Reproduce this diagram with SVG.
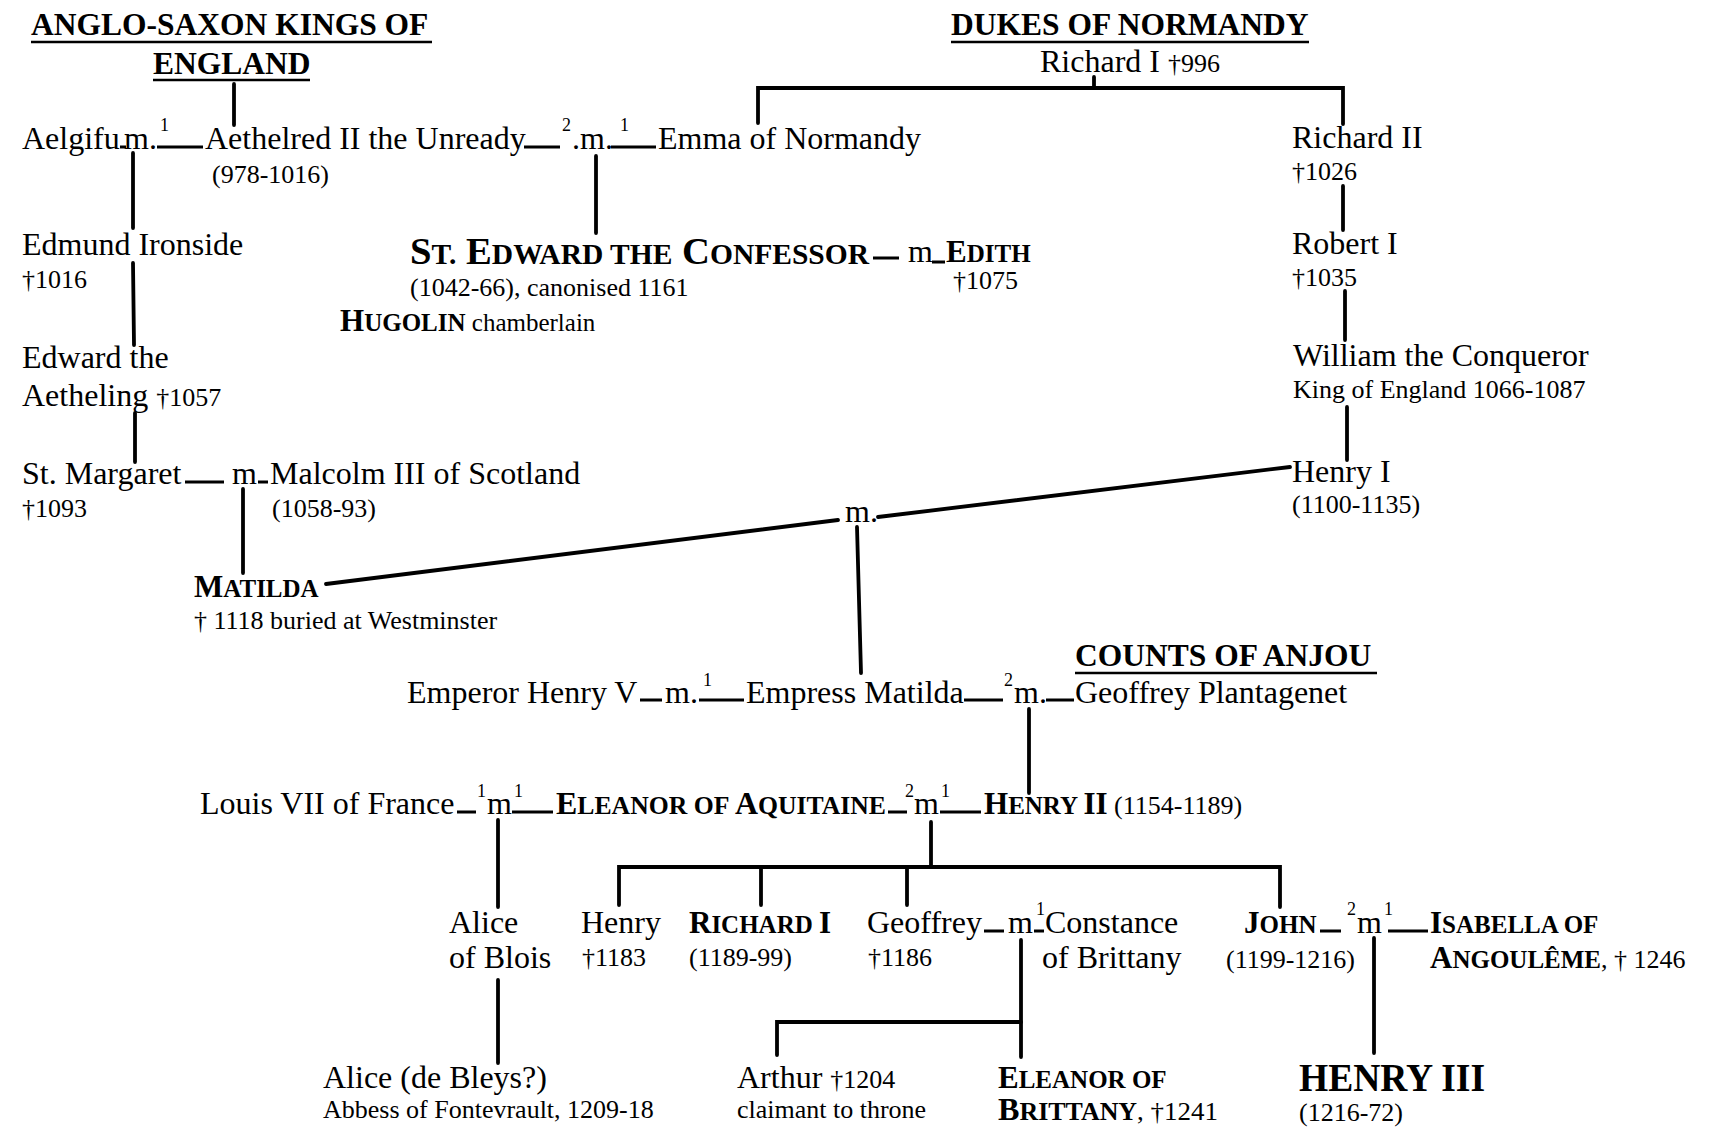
<svg xmlns="http://www.w3.org/2000/svg" width="1709" height="1138" viewBox="0 0 1709 1138">
<style>
text{font-family:"Liberation Serif","Times New Roman",serif;fill:#000}
.n{font-size:32px}
.s{font-size:26px}
.sup{font-size:18px}
.h{font-size:31.5px;font-weight:bold}
.b{font-weight:bold}
.B{font-size:31px}
.sc{font-size:25px}
.ln{stroke:#000;stroke-width:3.8;fill:none;stroke-linecap:round}
.ds{stroke:#000;stroke-width:3;fill:none}
.ul{stroke:#000;stroke-width:2.5}
</style>
<rect width="1709" height="1138" fill="#fff"/>

<g id="connectors">
  <line class="ln" x1="234" y1="84" x2="234" y2="125"/>
  <line class="ln" x1="133" y1="153" x2="133" y2="228"/>
  <line class="ln" x1="133" y1="263" x2="134" y2="345"/>
  <line class="ln" x1="135" y1="413" x2="135" y2="462"/>
  <line class="ln" x1="243" y1="489" x2="243" y2="573"/>
  <line class="ln" x1="596" y1="156" x2="596" y2="233"/>
  <path class="ln" d="M758,123 V88 H1343 V124"/>
  <line class="ln" x1="1094" y1="77" x2="1094" y2="88"/>
  <line class="ln" x1="1343" y1="186" x2="1343" y2="230"/>
  <line class="ln" x1="1345" y1="291" x2="1345" y2="340"/>
  <line class="ln" x1="1347" y1="407" x2="1347" y2="460"/>
  <line class="ln" stroke-width="4.2" x1="326" y1="584" x2="838" y2="520"/>
  <line class="ln" stroke-width="4.2" x1="878" y1="517" x2="1290" y2="467"/>
  <line class="ln" x1="857" y1="527" x2="861" y2="673"/>
  <line class="ln" x1="1029" y1="709" x2="1029" y2="793"/>
  <line class="ln" x1="498" y1="820" x2="498" y2="907"/>
  <line class="ln" x1="931" y1="822" x2="931" y2="867"/>
  <path class="ln" d="M619,905 V867 H1280 V907"/>
  <line class="ln" x1="761" y1="867" x2="761" y2="905"/>
  <line class="ln" x1="907" y1="867" x2="907" y2="905"/>
  <line class="ln" x1="498" y1="980" x2="498" y2="1063"/>
  <line class="ln" x1="1021" y1="940" x2="1021" y2="1057"/>
  <path class="ln" d="M777,1055 V1022 H1021"/>
  <line class="ln" x1="1374" y1="938" x2="1374" y2="1053"/>
  <!-- marriage dashes -->
  <path class="ds" d="M120,147 H126 M157,147 H203 M524,147 H560 M611,147 H656"/>
  <path class="ds" d="M873,258 H899 M932,262 H945"/>
  <path class="ds" d="M185,482 H224 M258,482 H268"/>
  <path class="ds" d="M640,700 H662 M699,700 H744 M964,700 H1003 M1046,700 H1074"/>
  <path class="ds" d="M457,812 H476 M512,812 H553 M888,812 H907 M940,812 H981"/>
  <path class="ds" d="M984,931 H1004 M1034,931 H1044"/>
  <path class="ds" d="M1320,931 H1341 M1388,931 H1428"/>
</g>

<g id="marriage-labels">
  <text class="n" x="124" y="149">m.</text><text class="sup" x="160" y="131">1</text>
  <text class="sup" x="562" y="131">2</text><text class="n" x="572" y="149">.m.</text><text class="sup" x="620" y="131">1</text>
  <text class="n" x="908" y="262">m</text>
  <text class="n" x="232" y="484">m</text>
  <text class="n" x="845" y="522">m.</text>
  <text class="n" x="665" y="703">m.</text><text class="sup" x="703" y="686">1</text>
  <text class="sup" x="1004" y="686">2</text><text class="n" x="1014" y="703">m.</text>
  <text class="sup" x="477" y="797">1</text><text class="n" x="487" y="814">m</text><text class="sup" x="514" y="797">1</text>
  <text class="sup" x="905" y="797">2</text><text class="n" x="914" y="814">m</text><text class="sup" x="941" y="797">1</text>
  <text class="n" x="1008" y="933">m</text><text class="sup" x="1036" y="915">1</text>
  <text class="sup" x="1347" y="915">2</text><text class="n" x="1357" y="933">m</text><text class="sup" x="1384" y="915">1</text>
</g>

<g id="heading-anglo-saxon">
  <text class="h" x="31" y="35">ANGLO-SAXON KINGS OF</text>
  <line class="ul" x1="31" y1="42" x2="432" y2="42"/>
  <text class="h" x="153" y="74">ENGLAND</text>
  <line class="ul" x1="153" y1="80" x2="310" y2="80"/>
</g>
<g id="heading-normandy">
  <text class="h" x="951" y="35">DUKES OF NORMANDY</text>
  <line class="ul" x1="951" y1="42" x2="1309" y2="42"/>
</g>
<g id="heading-anjou">
  <text class="h" x="1075" y="666">COUNTS OF ANJOU</text>
  <line class="ul" x1="1075" y1="673" x2="1377" y2="673"/>
</g>

<g id="richard-i-normandy"><text x="1040" y="72"><tspan class="n">Richard I </tspan><tspan class="s">†996</tspan></text></g>
<g id="aelgifu"><text class="n" x="22" y="149">Aelgifu</text></g>
<g id="aethelred"><text class="n" x="205" y="149">Aethelred II the Unready</text><text class="s" x="212" y="183">(978-1016)</text></g>
<g id="emma"><text class="n" x="658" y="149">Emma of Normandy</text></g>
<g id="richard-ii"><text class="n" x="1292" y="148">Richard II</text><text class="s" x="1292" y="180">†1026</text></g>
<g id="robert-i"><text class="n" x="1292" y="254">Robert I</text><text class="s" x="1292" y="286">†1035</text></g>
<g id="william"><text class="n" x="1293" y="366">William the Conqueror</text><text class="s" x="1293" y="398">King of England 1066-1087</text></g>
<g id="henry-i"><text class="n" x="1292" y="482">Henry I</text><text class="s" x="1292" y="513">(1100-1135)</text></g>
<g id="edmund"><text class="n" x="22" y="255">Edmund Ironside</text><text class="s" x="22" y="288">†1016</text></g>
<g id="edward-aetheling"><text class="n" x="22" y="368">Edward the</text><text x="22" y="406"><tspan class="n">Aetheling </tspan><tspan class="s">†1057</tspan></text></g>
<g id="margaret"><text class="n" x="22" y="484">St. Margaret</text><text class="s" x="22" y="517">†1093</text></g>
<g id="malcolm"><text class="n" x="270" y="484">Malcolm III of Scotland</text><text class="s" x="272" y="517">(1058-93)</text></g>
<g id="matilda"><text class="b" x="194" y="597"><tspan class="B">M</tspan><tspan class="sc">ATILDA</tspan></text><text class="s" x="194" y="629">† 1118 buried at Westminster</text></g>
<g id="st-edward"><text class="b" x="410" y="264" textLength="459" lengthAdjust="spacingAndGlyphs"><tspan font-size="38">S</tspan><tspan font-size="29">T.</tspan><tspan font-size="38"> E</tspan><tspan font-size="29">DWARD THE</tspan><tspan font-size="38"> C</tspan><tspan font-size="29">ONFESSOR</tspan></text><text class="s" x="410" y="296">(1042-66), canonised 1161</text></g>
<g id="edith"><text class="b" x="946" y="262"><tspan class="B">E</tspan><tspan class="sc">DITH</tspan></text><text class="s" x="953" y="289">†1075</text></g>
<g id="hugolin"><text x="340" y="331"><tspan class="B b">H</tspan><tspan class="sc b">UGOLIN</tspan><tspan font-size="25"> chamberlain</tspan></text></g>
<g id="emperor-henry-v"><text class="n" x="407" y="703">Emperor Henry V</text></g>
<g id="empress-matilda"><text class="n" x="746" y="703">Empress Matilda</text></g>
<g id="geoffrey-plantagenet"><text class="n" x="1075" y="703">Geoffrey Plantagenet</text></g>
<g id="louis-vii"><text class="n" x="200" y="814">Louis VII of France</text></g>
<g id="eleanor-aquitaine"><text class="b" x="556" y="814" textLength="330" lengthAdjust="spacingAndGlyphs"><tspan class="B">E</tspan><tspan class="sc">LEANOR OF </tspan><tspan class="B">A</tspan><tspan class="sc">QUITAINE</tspan></text></g>
<g id="henry-ii"><text x="984" y="814"><tspan class="B b">H</tspan><tspan class="sc b">ENRY </tspan><tspan class="B b">II</tspan><tspan class="s"> (1154-1189)</tspan></text></g>
<g id="alice-blois"><text class="n" x="449" y="933">Alice</text><text class="n" x="449" y="968">of Blois</text></g>
<g id="henry-young"><text class="n" x="581" y="933">Henry</text><text class="s" x="582" y="966">†1183</text></g>
<g id="richard-i"><text class="b" x="689" y="933"><tspan class="B">R</tspan><tspan class="sc">ICHARD </tspan><tspan class="B">I</tspan></text><text class="s" x="689" y="966">(1189-99)</text></g>
<g id="geoffrey"><text class="n" x="867" y="933">Geoffrey</text><text class="s" x="868" y="966">†1186</text></g>
<g id="constance"><text class="n" x="1045" y="933">Constance</text><text class="n" x="1042" y="968">of Brittany</text></g>
<g id="john"><text class="b" x="1244" y="933"><tspan class="B">J</tspan><tspan class="sc">OHN</tspan></text><text class="s" x="1226" y="968">(1199-1216)</text></g>
<g id="isabella"><text class="b" x="1430" y="933"><tspan class="B">I</tspan><tspan class="sc">SABELLA OF</tspan></text><text x="1430" y="968"><tspan class="B b">A</tspan><tspan class="sc b">NGOULÊME</tspan><tspan class="s">, † 1246</tspan></text></g>
<g id="alice-bleys"><text class="n" x="323" y="1088">Alice (de Bleys?)</text><text class="s" x="323" y="1118">Abbess of Fontevrault, 1209-18</text></g>
<g id="arthur"><text x="737" y="1088"><tspan class="n">Arthur </tspan><tspan class="s">†1204</tspan></text><text class="s" x="737" y="1118">claimant to throne</text></g>
<g id="eleanor-brittany"><text class="b" x="998" y="1088"><tspan class="B">E</tspan><tspan class="sc">LEANOR OF</tspan></text><text x="998" y="1120" textLength="220" lengthAdjust="spacingAndGlyphs"><tspan class="B b">B</tspan><tspan class="sc b">RITTANY</tspan><tspan class="s">, †1241</tspan></text></g>
<g id="henry-iii"><text class="b" x="1299" y="1091" font-size="40" textLength="186" lengthAdjust="spacingAndGlyphs">HENRY III</text><text class="s" x="1299" y="1121">(1216-72)</text></g>
</svg>
